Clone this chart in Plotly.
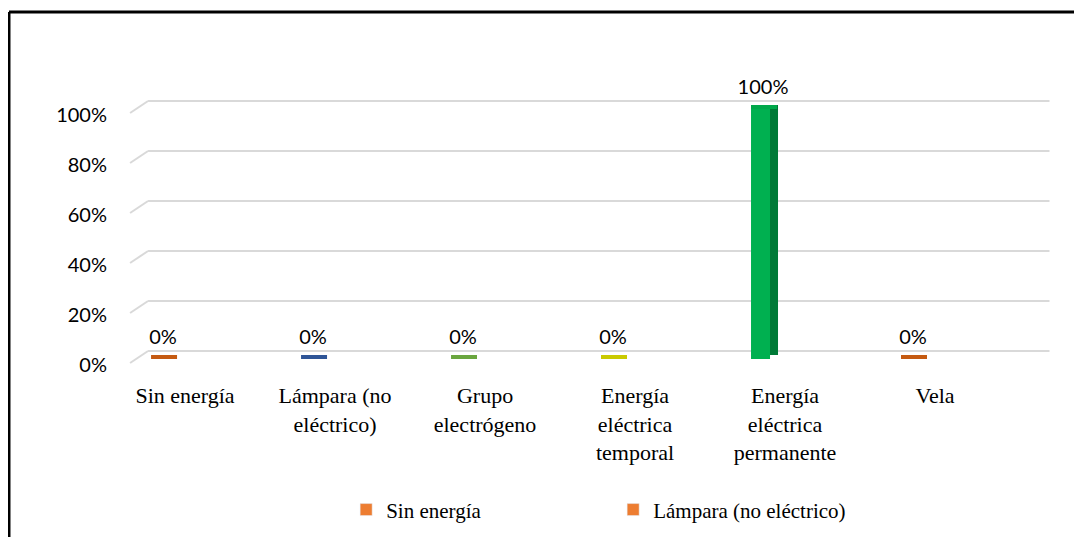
import plotly.graph_objects as go

# data
categories = ["Sin energía", "Lámpara (no eléctrico)", "Grupo electrógeno",
              "Energía eléctrica temporal", "Energía eléctrica permanente", "Vela"]
tick_labels = ["Sin energía", "Lámpara (no<br>eléctrico)", "Grupo<br>electrógeno",
               "Energía<br>eléctrica<br>temporal", "Energía<br>eléctrica<br>permanente", "Vela"]
values = [0.0, 0.0, 0.0, 0.0, 1.0, 0.0]
value_labels = ["0%", "0%", "0%", "0%", "100%", "0%"]
y_ticks = [0, 0.2, 0.4, 0.6, 0.8, 1.0]
y_tick_text = ["0%", "20%", "40%", "60%", "80%", "100%"]
legend_names = ["Sin energía", "Lámpara (no eléctrico)"]

front_colors = ["#ED7D31", "#4472C4", "#70AD47", "#D6D600", "#00B050", "#ED7D31"]
side_colors = ["#A5501A", "#264478", "#507E32", "#9E9E00", "#007A37", "#A5501A"]
top_colors = ["#C55A11", "#2F5597", "#6AA63F", "#CACA00", "#00A84A", "#C55A11"]

# pixel -> data unit helpers (plot area: 250 px per 100%, 150 px per category)
YPX = 1 / 250
XPX = 1 / 150
x_idx = list(range(len(categories)))

SANS = "Lato"
SERIF = "Liberation Serif"

fig = go.Figure()

# side face (depth) of the bars
fig.add_trace(go.Bar(
    x=x_idx, y=values, base=[4 * YPX] * len(values),
    offset=-4 * XPX, width=19 * XPX,
    marker=dict(color=side_colors, line_width=0), showlegend=False, hoverinfo="skip",
))
# top face
fig.add_trace(go.Bar(
    x=x_idx, y=[4 * YPX] * len(values), base=values,
    offset=-12 * XPX, width=26 * XPX,
    marker=dict(color=top_colors, line_width=0), showlegend=False, hoverinfo="skip",
))
# front face
fig.add_trace(go.Bar(
    x=x_idx, y=values,
    offset=-12 * XPX, width=19 * XPX,
    marker=dict(color=front_colors, line_width=0), showlegend=False,
))
# data labels (invisible marker keeps the text above the bar)
fig.add_trace(go.Scatter(
    x=x_idx, y=values, mode="markers+text", text=value_labels, textposition="top center",
    marker=dict(size=14, color="rgba(0,0,0,0)"),
    textfont=dict(family=SANS, size=20, color="#000000"),
    showlegend=False, hoverinfo="skip", cliponaxis=False,
))
# legend entries
for name in legend_names:
    fig.add_trace(go.Bar(x=[None], y=[None], name=name, marker_color="#ED7D31"))

# 3d-looking gridlines: front stub + back line
shapes = []
for t in y_ticks:
    shapes.append(dict(type="line", xref="x", yref="y",
                       x0=-0.22, y0=t - 4 * YPX, x1=-0.1, y1=t + 8 * YPX,
                       line=dict(color="#D9D9D9", width=2), layer="below"))
    shapes.append(dict(type="line", xref="x", yref="y",
                       x0=-0.1, y0=t + 8 * YPX, x1=5.91, y1=t + 8 * YPX,
                       line=dict(color="#D9D9D9", width=2), layer="below"))
# chart border (top and left only visible)
shapes.append(dict(type="line", xref="paper", yref="paper", x0=-0.1265, y0=1.15, x1=1.1, y1=1.15,
                   line=dict(color="#000000", width=3)))
shapes.append(dict(type="line", xref="paper", yref="paper", x0=-0.1265, y0=1.15, x1=-0.1265, y1=-0.5,
                   line=dict(color="#000000", width=3)))

fig.update_layout(
    width=1074, height=529,
    margin=dict(l=118, r=31, t=52, b=157, autoexpand=False),
    paper_bgcolor="#FFFFFF", plot_bgcolor="#FFFFFF",
    barmode="overlay",
    shapes=shapes,
    showlegend=True,
    legend=dict(orientation="h", x=0.238, y=-0.406, xanchor="left", yanchor="middle",
                font=dict(family=SERIF, size=21, color="#000000"),
                entrywidth=222, traceorder="normal"),
    xaxis=dict(range=[-0.247, 5.92], tickmode="array", tickvals=x_idx, ticktext=tick_labels,
               showgrid=False, zeroline=False, showline=False, ticks="",
               ticklabelshift=22,
               tickfont=dict(family=SERIF, size=22, color="#000000")),
    yaxis=dict(range=[-0.084, 1.196], tickmode="array", tickvals=y_ticks, ticktext=y_tick_text,
               showgrid=False, zeroline=False, showline=False, ticks="",
               ticklabelshift=6, ticklabelstandoff=18,
               tickfont=dict(family=SANS, size=20, color="#000000")),
)

fig.write_html("out.html")
